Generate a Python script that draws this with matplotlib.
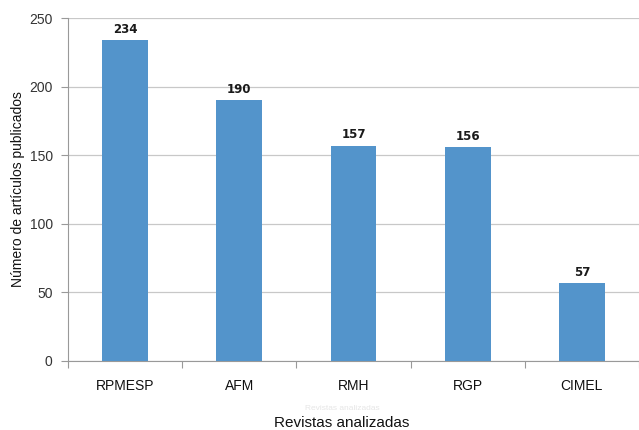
import matplotlib
matplotlib.use("Agg")
import matplotlib.pyplot as plt
import numpy as np

plt.rcParams["font.family"] = ["Liberation Sans", "DejaVu Sans"]

categories = ["RPMESP", "AFM", "RMH", "RGP", "CIMEL"]
values = [234, 190, 157, 156, 57]
yticks = [0, 50, 100, 150, 200, 250]

fig = plt.figure(figsize=(6.39, 4.30), dpi=100)
ax = fig.add_axes([68/639, 1-361/430, 1-68/639, (361-18)/430])

x = np.arange(len(categories))
ax.bar(x, values, width=0.4, color="#5394CB", zorder=3)
for xi, v in zip(x, values):
    ax.text(xi, v + 3, str(v), ha="center", va="bottom", fontsize=8.5,
            fontweight="bold", color="#1a1a1a", family="DejaVu Sans")

ax.set_xlim(-0.5, len(categories) - 0.5)
ax.set_ylim(0, 250)
ax.set_yticks(yticks)
ax.set_yticklabels([str(t) for t in yticks], fontsize=10, color="#333333")
ax.yaxis.grid(True, color="#c8c8c8", linewidth=0.9, zorder=0)
ax.tick_params(axis="y", length=5, color="#999999", width=0.8, pad=6)

ax.set_xticks(x)
ax.set_xticklabels(categories, fontsize=10, color="#111111")
ax.tick_params(axis="x", length=0, pad=13)
ax.set_xticks(np.arange(-0.5, len(categories), 1.0), minor=True)
ax.tick_params(axis="x", which="minor", length=5, color="#999999", width=0.8)

for s in ["top", "right"]:
    ax.spines[s].set_visible(False)
ax.spines["left"].set_color("#999999")
ax.spines["bottom"].set_color("#999999")
ax.spines["left"].set_linewidth(0.8)
ax.spines["bottom"].set_linewidth(0.8)

ax.set_ylabel("Número de artículos publicados", fontsize=10, color="#111111", labelpad=3)
fig.text(0.535, 1 - 408/430, "Revistas analizadas", ha="center", va="center",
         fontsize=6, color="#e6e6e6")
fig.text(0.535, 1 - 423/430, "Revistas analizadas", ha="center", va="center",
         fontsize=11, color="#111111")

fig.savefig("out.png", dpi=100)
